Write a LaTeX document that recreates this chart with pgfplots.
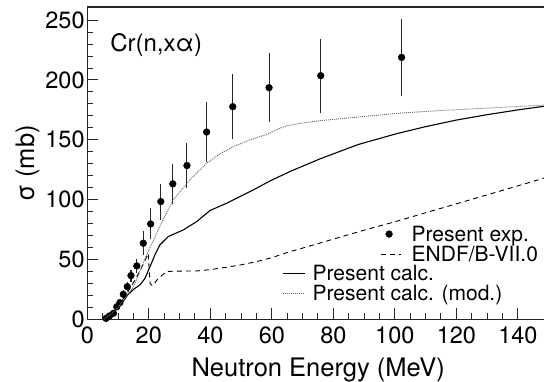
\documentclass[border=0pt]{standalone}
\usepackage{fontspec}
\setmainfont{TeX Gyre Heros}
\usepackage{pgfplots}
\pgfplotsset{compat=1.18}
\pgfplotsset{
  legA/.style={legend image code/.code={\draw[##1] (0pt,0pt) -- (20pt,0pt); \path (30.7pt,0pt);}},
  legB/.style={legend image code/.code={\draw[##1] (0pt,0pt) -- (22pt,0pt); \path (28.7pt,0pt);}},
}
\begin{document}
\begin{tikzpicture}
\pgfplotsset{
  common/.style={
    scale only axis, width=456.7pt, height=312.3pt,
    xmin=0, xmax=148.5, ymin=0, ymax=261,
    clip=false,
  },
  leg/.style={
    legend style={draw=none, fill=none, inner sep=0pt, outer sep=0pt,
      font=\fontsize{21}{21}\selectfont,
      nodes={inner sep=0pt, text height=15pt, text depth=0pt},
      row sep=5pt},
    legend cell align=left,
  },
}
\begin{axis}[common, leg,
  axis x line*=bottom, axis y line*=left,
  axis line style={line width=1.1pt, black!85},
  xtick={0,20,...,140}, minor x tick num=3,
  ytick={0,50,...,250}, minor y tick num=4,
  tick align=inside, major tick length=11pt, minor tick length=6pt,
  tick style={line width=1pt, black!85},
  tick label style={font=\fontsize{23.5}{28}\selectfont},
  /pgf/number format/assume math mode=true,
  xticklabel style={inner sep=0pt, yshift=-7pt},
  yticklabel style={inner sep=2.5pt},
  xlabel={Neutron Energy (MeV)},
  xlabel style={at={(axis description cs:0.5,0)}, anchor=base, yshift=-57.4pt, xshift=2.6pt, font=\fontsize{25.5}{30}\selectfont},
  ylabel={σ (mb)},
  ylabel style={at={(axis description cs:-0.1167,0.5)}, anchor=base, font=\fontsize{25.5}{30}\selectfont},
  legend style={at={(axis cs:95.2,77.5)}, anchor=north west},
]
\addplot[only marks, mark=*, mark size=3.4pt, black,
  error bars/.cd, y dir=both, y explicit, error mark=none,
  error bar style={line width=1.1pt, black!85}]
  table[x=x, y=y, y error=e] {
x y e
6.1 0.8 1
7.2 2.8 1.5
8.5 5.0 2
9.6 10.5 2.5
10.6 13.9 3
11.7 20.9 3.5
13.0 27.3 4
14.2 36.5 5
16.1 44.6 6
18.2 63.6 10
20.6 79.7 13
23.9 98.4 15
27.8 113.2 17
32.4 128.5 19
38.8 156.5 25
47.3 177.7 27
59.1 193.6 29
75.9 203.6 31
102.2 218.9 32
};
\addlegendentry{Present exp.}
\addplot[black, line width=0.9pt, dash pattern=on 5pt off 4pt, legA]
  coordinates {
(5.5,0) (8,5) (10,11) (13,22) (16,35) (18,45) (19.8,55) (20.4,30) (21.2,28)
(23,34) (25.8,40) (30,40.3) (35.6,40.4) (40,41.5) (45.3,43.5) (50,45.5) (55,48.2)
(60,51.5) (65.9,56.6) (70,59.5) (80,67) (90,74.5) (100,81.5) (110,89)
(120,96.5) (130,104) (140,111.5) (148.5,118)
};
\addlegendentry{ENDF/B-VII.0}
\draw[line width=1.1pt, black!85] (rel axis cs:0,1) -- (rel axis cs:1,1);
\node[anchor=base west, inner sep=0pt, font=\fontsize{24}{28}\selectfont] at (axis cs:7.4,224) {Cr(n,xα)};
\end{axis}
\begin{axis}[common, leg, hide axis,
  legend style={at={(axis cs:63.6,44.6)}, anchor=north west},
]
\addplot[black, line width=1.1pt, legB]
  coordinates {
(5.5,0) (8,4) (10,10) (12,16) (13,20) (15,25) (17.1,28.7) (18.7,34) (20.4,44)
(22,54) (23.6,62.2) (26.3,69.1) (31.2,74.7) (35.6,81.7) (39.9,90.9) (45.3,97)
(50,103) (54,108.2) (59.4,115.6) (65.9,123.5) (75.6,134) (88,146) (100.4,155)
(110,161) (120,166.5) (130,171) (140,175) (148.5,178)
};
\addlegendentry{Present calc.}
\addplot[black!60, line width=0.9pt, dash pattern=on 1pt off 1pt, legB]
  coordinates {
(5.5,0) (8,5) (10,10) (13,20) (15,27) (17.1,40) (19,52) (21.5,66) (24,80)
(28,100) (33.4,116.6) (38.8,130.5) (43,138) (47.5,144.4) (53,150) (58.3,154.5)
(62.5,159.5) (64.8,161.8) (70,164) (75.6,166) (90,169.5) (102.7,172.5)
(115,174.5) (130,176.5) (148.5,179)
};
\addlegendentry{Present calc. (mod.)}
\end{axis}
\pgfresetboundingbox
\path (-87.3pt,-62.7pt) rectangle (456.7pt,319.3pt);
\end{tikzpicture}
\end{document}
